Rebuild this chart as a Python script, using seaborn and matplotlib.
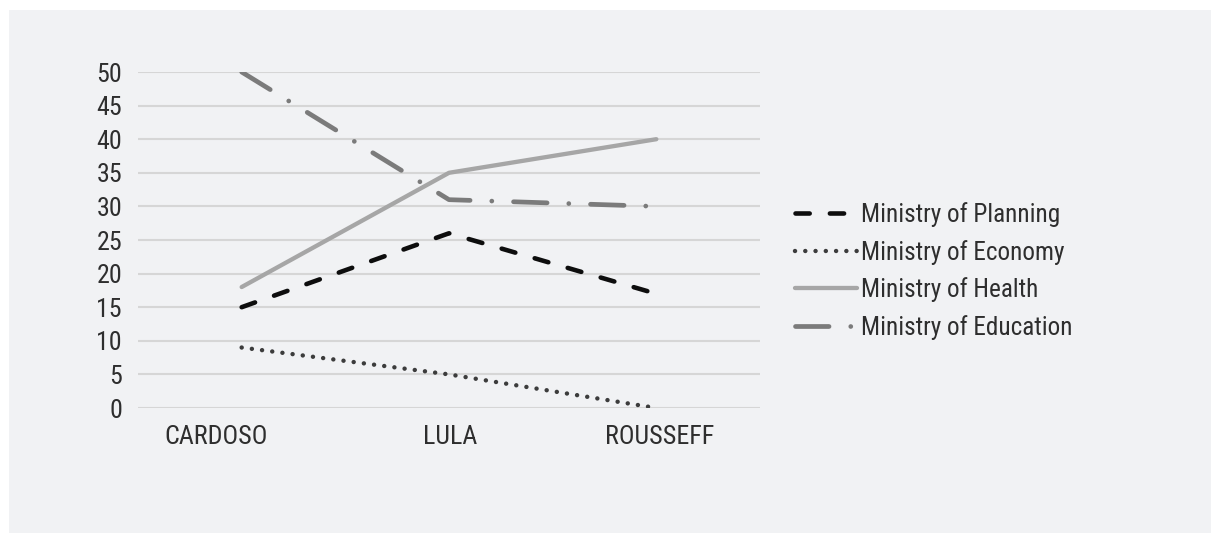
import matplotlib
matplotlib.use("Agg")
import matplotlib.pyplot as plt
from matplotlib.patches import Rectangle
from matplotlib import font_manager
import matplotlib.transforms as mtransforms
import seaborn as sns
import pandas as pd

presidents = ["CARDOSO", "LULA", "ROUSSEFF"]
planning = [15, 26, 17]
economy = [9, 5, 0]
health = [18, 35, 40]
education = [50, 31, 30]
series_names = ["Ministry of Planning", "Ministry of Economy",
                "Ministry of Health", "Ministry of Education"]
y_ticks = [0, 5, 10, 15, 20, 25, 30, 35, 40, 45, 50]

sns.set_theme(style="white")
available = {f.name for f in font_manager.fontManager.ttflist}
candidates = ["Liberation Sans Narrow", "Arial Narrow", "Roboto Condensed",
              "Archivo Narrow", "PT Sans Narrow", "IBM Plex Sans Condensed",
              "Sofia Sans Condensed", "DejaVu Sans"]
chosen = next(c for c in candidates if c in available)
plt.rcParams['font.family'] = [chosen, 'DejaVu Sans']

W, H = 1211, 533
fig = plt.figure(figsize=(W / 100, H / 100), dpi=100, facecolor="white")
fig.patches.append(Rectangle((9 / W, 0), 1 - 9 / W, 1 - 10 / H,
                             transform=fig.transFigure, facecolor="#f1f2f4",
                             edgecolor="none", zorder=-10))
ax = fig.add_axes([138 / W, 1 - 408 / H, (760 - 138) / W, (408 - 72) / H])
ax.set_facecolor("none")

text_color = "#2e2e2e"
styles = [
    dict(color="#0d0d0d", lw=3.3, ls=(0, (3.1, 4.4)), dash_capstyle="round"),
    dict(color="#3c3c3c", lw=3.2, ls=(0, (0.01, 2.3)), dash_capstyle="round"),
    dict(color="#a6a6a6", lw=3.1, ls="-", solid_capstyle="round"),
    dict(color="#7b7b7b", lw=3.4, ls=(0, (7.1, 4.6, 0.01, 4.6)), dash_capstyle="round"),
]
values = [planning, economy, health, education]
for name, vals, st in zip(series_names, values, styles):
    df = pd.DataFrame({"president": presidents, "value": vals})
    sns.lineplot(data=df, x="president", y="value", ax=ax, legend=False,
                 label=name, color=st["color"], linewidth=st["lw"],
                 linestyle=st["ls"],
                 **{k: v for k, v in st.items() if k.endswith("capstyle")})

ax.set_xlim(-0.5, 2.5)
ax.set_ylim(0, 50)
ax.set_yticks(y_ticks)
ax.set_yticklabels([str(t) for t in y_ticks])
ax.set_xticks(range(len(presidents)))
ax.set_xticklabels(presidents)
ax.set_xlabel("")
ax.set_ylabel("")
ax.grid(axis="y", color="#d6d6d6", linewidth=1.5, zorder=0)
ax.grid(axis="x", visible=False)
ax.set_axisbelow(True)
for s in ax.spines.values():
    s.set_visible(False)
ax.tick_params(axis="y", length=0, pad=11.5, labelsize=18.7, labelcolor=text_color)
ax.tick_params(axis="x", length=0, pad=12, labelsize=18.7, labelcolor=text_color)

# Excel-like uneven label placement
label_shift_px = [-26, 1, 3]
for lab, dx in zip(ax.get_xticklabels(), label_shift_px):
    lab.set_transform(lab.get_transform() +
                      mtransforms.ScaledTranslation(dx / 100, 0, fig.dpi_scale_trans))

handles, labels = ax.get_legend_handles_labels()
leg = fig.legend(handles, labels, loc="center left",
                 bbox_to_anchor=(795 / W, 1 - 271 / H), frameon=False,
                 fontsize=18.2, handlelength=2.45, handletextpad=0.15,
                 labelspacing=0.5, borderpad=0, borderaxespad=0)
for t in leg.get_texts():
    t.set_color(text_color)

fig.savefig("out.png", dpi=100, facecolor="white")
